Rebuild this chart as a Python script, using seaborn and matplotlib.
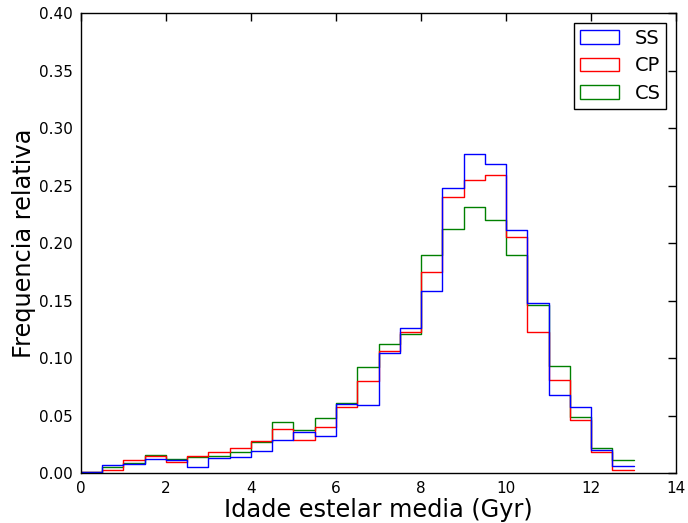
import numpy as np
import pandas as pd
import matplotlib
matplotlib.use("Agg")
import matplotlib.pyplot as plt
from matplotlib.patches import Patch
import seaborn as sns

# --- Data: relative frequency per 0.5 Gyr age bin (0 to 13 Gyr) ---
BIN_EDGES = np.arange(0, 13.01, 0.5)
BIN_CENTERS = BIN_EDGES[:-1] + 0.25

SS = [0.001, 0.007, 0.008, 0.012, 0.011, 0.005, 0.013, 0.014, 0.019, 0.029,
      0.036, 0.032, 0.060, 0.059, 0.104, 0.126, 0.158, 0.248, 0.277, 0.269,
      0.211, 0.148, 0.068, 0.057, 0.020, 0.006]
CP = [0.001, 0.003, 0.011, 0.015, 0.010, 0.015, 0.018, 0.022, 0.028, 0.038,
      0.029, 0.040, 0.057, 0.080, 0.106, 0.123, 0.175, 0.240, 0.255, 0.259,
      0.205, 0.123, 0.081, 0.046, 0.018, 0.003]
CS = [0.001, 0.005, 0.009, 0.016, 0.012, 0.014, 0.015, 0.018, 0.027, 0.044,
      0.037, 0.048, 0.061, 0.092, 0.112, 0.121, 0.190, 0.212, 0.231, 0.220,
      0.190, 0.146, 0.093, 0.049, 0.022, 0.011]

GROUPS = ["SS", "CP", "CS"]
COLORS = {"SS": "#0000ff", "CP": "#ff0000", "CS": "#008000"}

frames = []
for name, vals in zip(GROUPS, [SS, CP, CS]):
    frames.append(pd.DataFrame({"idade": BIN_CENTERS, "freq": vals, "grupo": name}))
df = pd.concat(frames, ignore_index=True)

# --- Style: old matplotlib look, ticks inside on all sides ---
sns.set_style("white")
plt.rcParams.update({
    "font.family": ["DejaVu Sans"],
    "text.color": "black",
    "axes.labelcolor": "black",
    "xtick.direction": "in",
    "ytick.direction": "in",
    "xtick.top": True,
    "ytick.right": True,
    "xtick.major.size": 6,
    "ytick.major.size": 6,
    "xtick.major.width": 1,
    "ytick.major.width": 1,
    "axes.edgecolor": "black",
    "axes.linewidth": 1.0,
    "xtick.color": "black",
    "ytick.color": "black",
})

fig = plt.figure(figsize=(6.88, 5.23), dpi=100)
ax = fig.add_axes([0.1177, 0.0956, 0.8649, 0.8795])

sns.histplot(data=df, x="idade", weights="freq", hue="grupo",
             binwidth=0.5, binrange=(0, 13),
             element="step", fill=False, palette=COLORS, linewidth=1.0,
             legend=False, ax=ax)

ax.set_xlim(0, 14)
ax.set_ylim(0, 0.40)
ax.set_xticks(np.arange(0, 15, 2))
ax.set_yticks(np.arange(0, 0.401, 0.05))
ax.set_yticklabels([f"{v:.2f}" for v in np.arange(0, 0.401, 0.05)])
ax.tick_params(labelsize=11, pad=6)
ax.set_xlabel("Idade estelar media (Gyr)", fontsize=17.3, labelpad=1)
ax.set_ylabel("Frequencia relativa", fontsize=17.3, labelpad=2)
for s in ax.spines.values():
    s.set_visible(True)
    s.set_color("black")

handles = [Patch(facecolor="none", edgecolor=COLORS[g], linewidth=1.0, label=g) for g in GROUPS]
leg = ax.legend(handles=handles, loc="upper right", fontsize=14, frameon=True,
                fancybox=False, edgecolor="black", framealpha=1,
                handlelength=2.0, handleheight=0.7, borderpad=0.3, labelspacing=0.45)
leg.get_frame().set_linewidth(1.0)

fig.savefig("out.png", dpi=100)
